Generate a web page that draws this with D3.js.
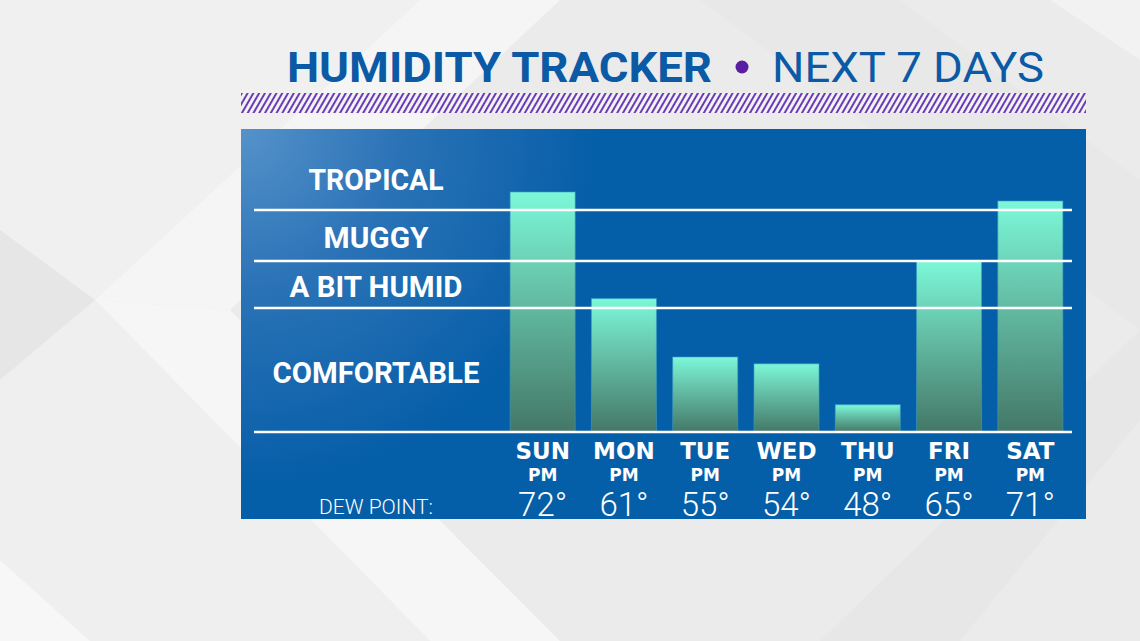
<!DOCTYPE html>
<html>
<head>
<meta charset="utf-8">
<script src="https://cdn.jsdelivr.net/npm/d3@7"></script>
<style>
  html, body { margin: 0; padding: 0; background: #ececec; }
  svg { display: block; }
</style>
</head>
<body>
<svg id="chart" width="1140" height="641"></svg>
<script>
// ---- data ----
const days = ["SUN", "MON", "TUE", "WED", "THU", "FRI", "SAT"];
const periods = ["PM", "PM", "PM", "PM", "PM", "PM", "PM"];
const dewPoints = [72, 61, 55, 54, 48, 65, 71];
const categories = ["TROPICAL", "MUGGY", "A BIT HUMID", "COMFORTABLE"];
const thresholds = [70, 65, 60];          // category boundaries (dew point °F)
const titleBold = "HUMIDITY TRACKER";
const titleLight = "NEXT 7 DAYS";
const dewLabel = "DEW POINT:";

const svg = d3.select("#chart");
const W = 1140, H = 641;
const defs = svg.append("defs");

// ---- background ----
const bg = svg.append("g");
bg.append("rect").attr("width", W).attr("height", H).attr("fill", "#ebebeb");
const bgShapes = [
  {pts: [[0,0],[420,0],[95,300],[0,230]], fill: "#f0f0f0"},
  {pts: [[420,0],[560,0],[230,310],[95,300]], fill: "#f5f5f5"},
  {pts: [[95,300],[230,310],[560,641],[430,641]], fill: "#f6f6f6"},
  {pts: [[0,230],[95,300],[0,380]], fill: "#e6e6e6"},
  {pts: [[0,380],[95,300],[430,641],[0,641]], fill: "#efefef"},
  {pts: [[0,560],[90,641],[0,641]], fill: "#f7f7f7"},
  {pts: [[700,0],[900,0],[1140,180],[1140,330]], fill: "#e8e8e8"},
  {pts: [[1140,330],[1140,420],[960,641],[820,641]], fill: "#e7e7e7"},
  {pts: [[1050,0],[1140,0],[1140,60]], fill: "#f2f2f2"}
];
bg.selectAll("polygon").data(bgShapes).join("polygon")
  .attr("points", d => d.pts.map(p => p.join(",")).join(" "))
  .attr("fill", d => d.fill);

// ---- title ----
const title = svg.append("g");
title.append("text")
  .attr("x", 287).attr("y", 82)
  .attr("font-family", "Roboto, 'Open Sans', sans-serif")
  .attr("font-weight", 700).attr("font-size", 42)
  .attr("fill", "#0b5aa6")
  .attr("textLength", 425).attr("lengthAdjust", "spacingAndGlyphs")
  .text(titleBold);
title.append("circle").attr("cx", 742).attr("cy", 67).attr("r", 6.5).attr("fill", "#5a1ea3");
title.append("text")
  .attr("x", 772).attr("y", 82)
  .attr("font-family", "Roboto, 'Open Sans', sans-serif")
  .attr("font-weight", 400).attr("font-size", 42)
  .attr("fill", "#0b5aa6")
  .attr("textLength", 272).attr("lengthAdjust", "spacingAndGlyphs")
  .text(titleLight);

// ---- hatch stripe ----
const hatch = defs.append("pattern")
  .attr("id", "hatch").attr("patternUnits", "userSpaceOnUse")
  .attr("width", 5).attr("height", 5)
  .attr("patternTransform", "rotate(30)");
hatch.append("rect").attr("width", 5).attr("height", 5).attr("fill", "#f2f2f2");
hatch.append("rect").attr("width", 2).attr("height", 5).attr("fill", "#6b3cb8");
svg.append("rect").attr("x", 241).attr("y", 93).attr("width", 845).attr("height", 20)
  .attr("fill", "url(#hatch)");

// ---- panel ----
const pg = defs.append("radialGradient").attr("id", "panelGrad")
  .attr("gradientUnits", "userSpaceOnUse")
  .attr("cx", 241).attr("cy", 129).attr("r", 360);
pg.append("stop").attr("offset", 0).attr("stop-color", "#5592ca");
pg.append("stop").attr("offset", 0.45).attr("stop-color", "#2a72b6");
pg.append("stop").attr("offset", 1).attr("stop-color", "#055ea8");
svg.append("rect").attr("x", 241).attr("y", 129).attr("width", 845).attr("height", 390)
  .attr("fill", "url(#panelGrad)");

// ---- scales ----
const x = d3.scaleBand().domain(days).range([502, 1071]).paddingInner(0.2).paddingOuter(0.1);
const y = d3.scaleLinear()
  .domain([44, 55, 60, 65, 70, 75])
  .range([432, 357, 308, 261, 210, 165]);

// ---- bars ----
const bgGrad = defs.append("linearGradient").attr("id", "barGrad")
  .attr("x1", 0).attr("y1", 0).attr("x2", 0).attr("y2", 1);
bgGrad.append("stop").attr("offset", 0).attr("stop-color", "#7cf8d9");
bgGrad.append("stop").attr("offset", 0.45).attr("stop-color", "#63bca3");
bgGrad.append("stop").attr("offset", 1).attr("stop-color", "#447767");

svg.append("g").selectAll("rect").data(dewPoints).join("rect")
  .attr("x", (d, i) => x(days[i]))
  .attr("y", d => y(d))
  .attr("width", x.bandwidth())
  .attr("height", d => y.range()[0] - y(d))
  .attr("fill", "url(#barGrad)")
  .attr("stroke", "#3f9fc0").attr("stroke-opacity", 0.6).attr("stroke-width", 1);

// ---- category lines ----
const lines = thresholds.concat([y.domain()[0]]);
svg.append("g").selectAll("line").data(lines).join("line")
  .attr("x1", 254).attr("x2", 1072)
  .attr("y1", d => y(d)).attr("y2", d => y(d))
  .attr("stroke", "#ffffff").attr("stroke-width", 2.5);

// ---- category labels ----
const catBaselines = [190, 248, 297, 383];
const catWidths = [135, 105, 173, 207];
svg.append("g").selectAll("text").data(categories).join("text")
  .attr("x", 376).attr("y", (d, i) => catBaselines[i])
  .attr("text-anchor", "middle")
  .attr("font-family", "Roboto, 'Open Sans', sans-serif")
  .attr("font-weight", 700).attr("font-size", 30)
  .attr("fill", "#ffffff")
  .attr("textLength", (d, i) => catWidths[i]).attr("lengthAdjust", "spacingAndGlyphs")
  .text(d => d);

// ---- x axis labels ----
const axisG = svg.append("g");
axisG.selectAll("text.day").data(days).join("text").attr("class", "day")
  .attr("x", d => x(d) + x.bandwidth() / 2).attr("y", 459)
  .attr("text-anchor", "middle")
  .attr("font-family", "'DejaVu Sans', sans-serif").attr("font-weight", 700).attr("font-size", 23)
  .attr("fill", "#ffffff").text(d => d);
axisG.selectAll("text.per").data(periods).join("text").attr("class", "per")
  .attr("x", (d, i) => x(days[i]) + x.bandwidth() / 2).attr("y", 481)
  .attr("text-anchor", "middle")
  .attr("font-family", "'DejaVu Sans', sans-serif").attr("font-weight", 700).attr("font-size", 17)
  .attr("fill", "#ffffff").text(d => d);
axisG.selectAll("text.dew").data(dewPoints).join("text").attr("class", "dew")
  .attr("x", (d, i) => x(days[i]) + x.bandwidth() / 2).attr("y", 516)
  .attr("text-anchor", "middle")
  .attr("font-family", "Roboto, sans-serif").attr("font-weight", 300).attr("font-size", 33)
  .attr("fill", "#ffffff").text(d => d + "°");
axisG.append("text")
  .attr("x", 376).attr("y", 514).attr("text-anchor", "middle")
  .attr("font-family", "Roboto, sans-serif").attr("font-weight", 300).attr("font-size", 21)
  .attr("fill", "#ffffff").text(dewLabel);
</script>
</body>
</html>
